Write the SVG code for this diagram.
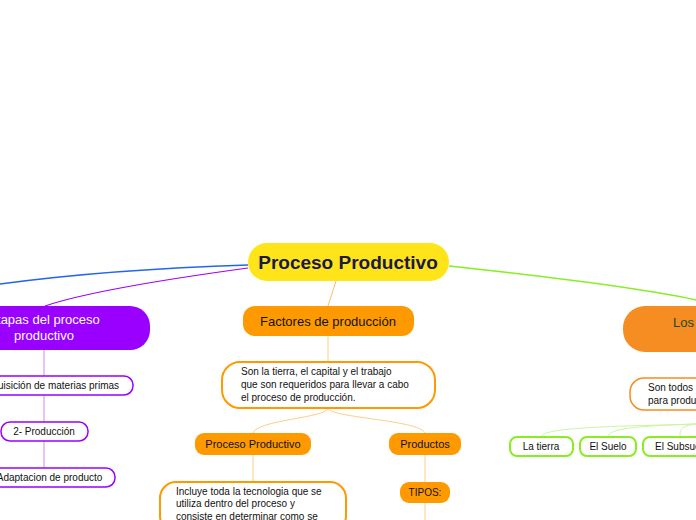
<svg xmlns="http://www.w3.org/2000/svg" width="696" height="520" viewBox="0 0 696 520">
<style>
text{font-family:"Liberation Sans","DejaVu Sans",sans-serif;fill:#111}
.c{text-anchor:middle}
.or{fill:#FF9900}
.wo{fill:#fff;stroke:#FF9900;stroke-width:2}
.wp{fill:#fff;stroke:#9900FF;stroke-width:1.5}
.wg{fill:#fff;stroke:#88EE22;stroke-width:2}
.s{font-size:10px}
.m{font-size:11px}
</style>
<rect width="696" height="520" fill="#fff"/>
<g id="connectors" fill="none">
<path d="M248,265 C150,268 60,276 0,284" stroke="#2266EE" stroke-width="1.5"/>
<path d="M248,268 C160,280 80,294 45,306" stroke="#9900FF" stroke-width="1.2"/>
<path d="M44,350 V468" stroke="#CC88FF" stroke-width="1"/>
<path d="M449,266 C560,278 650,290 696,300" stroke="#88EE22" stroke-width="1.5"/>
<path d="M336,281 L328,306" stroke="#FFBB66" stroke-width="1"/>
<path d="M328,336 V362" stroke="#FFCC88" stroke-width="1"/>
<path d="M328,408 C328,418 253,420 253,434 M328,408 C328,418 425,420 425,434" stroke="#FFCC88" stroke-width="1"/>
<path d="M253,455 V482 M425,455 V482 M425,503 V520" stroke="#FFCC88" stroke-width="1"/>
<path d="M696,424 C640,426 541,426 541,437 M696,424 C640,426 608,428 608,437 M696,424 C680,426 680,430 680,437" stroke="#CCF5A0" stroke-width="1"/>
</g>
<g id="root"><rect x="248" y="243" width="201" height="38" rx="19" fill="#FFE41A"/><text x="348" y="269" class="c" font-size="19" font-weight="bold" style="fill:#1A1A4A">Proceso Productivo</text></g>
<g id="etapas"><rect x="-62" y="306" width="212" height="44" rx="20" fill="#9900FF"/><text x="44" y="324" class="c" font-size="13" style="fill:#fff">Etapas del proceso</text><text x="44" y="340" class="c" font-size="13" style="fill:#fff">productivo</text></g>
<g id="e1"><rect x="-45" y="376" width="178" height="19" rx="9" class="wp"/><text x="44" y="389" class="c s">1- Adquisición de materias primas</text></g>
<g id="e2"><rect x="1" y="422" width="87" height="19" rx="9" class="wp"/><text x="44" y="435" class="c s">2- Producción</text></g>
<g id="e3"><rect x="-27" y="468" width="142" height="19" rx="9" class="wp"/><text x="44" y="481" class="c s">3- Adaptacion de producto</text></g>
<g id="factores"><rect x="243" y="306" width="171" height="30" rx="12" class="or"/><text x="328" y="326" class="c" font-size="13">Factores de producción</text></g>
<g id="desc"><rect x="222" y="362" width="213" height="46" rx="18" class="wo"/><text x="241" y="375" class="s">Son la tierra, el capital y el trabajo</text><text x="241" y="388" class="s">que son requeridos para llevar a cabo</text><text x="241" y="401" class="s">el proceso de producción.</text></g>
<g id="pp"><rect x="195" y="433" width="116" height="22" rx="9" class="or"/><text x="253" y="448" class="c m">Proceso Productivo</text></g>
<g id="productos"><rect x="389" y="433" width="72" height="22" rx="9" class="or"/><text x="425" y="448" class="c m">Productos</text></g>
<g id="incluye"><rect x="160" y="482" width="186" height="50" rx="16" class="wo"/><text x="176" y="495" class="s">Incluye toda la tecnologia que se</text><text x="176" y="507" class="s">utiliza dentro del proceso y</text><text x="176" y="520" class="s">consiste en determinar como se</text></g>
<g id="tipos"><rect x="400" y="482" width="50" height="21" rx="9" class="or"/><text x="425" y="496" class="c s">TIPOS:</text></g>
<g id="los"><rect x="623" y="306" width="180" height="46" rx="22" fill="#F68D22"/><text x="673" y="327" font-size="13" style="fill:#1A4A1A">Los recursos naturales</text></g>
<g id="sontodos"><rect x="630" y="378" width="180" height="32" rx="14" fill="#fff" stroke="#F68D22" stroke-width="1.5"/><text x="648" y="391" class="s">Son todos los recursos</text><text x="648" y="404" class="s">para producir</text></g>
<g id="tierra"><rect x="510" y="437" width="63" height="19" rx="7" class="wg"/><text x="541" y="450" class="c s">La tierra</text></g>
<g id="suelo"><rect x="580" y="437" width="56" height="19" rx="7" class="wg"/><text x="608" y="450" class="c s">El Suelo</text></g>
<g id="subsuelo"><rect x="643" y="437" width="74" height="19" rx="7" class="wg"/><text x="655" y="450" class="s">El Subsuelo</text></g>
</svg>
